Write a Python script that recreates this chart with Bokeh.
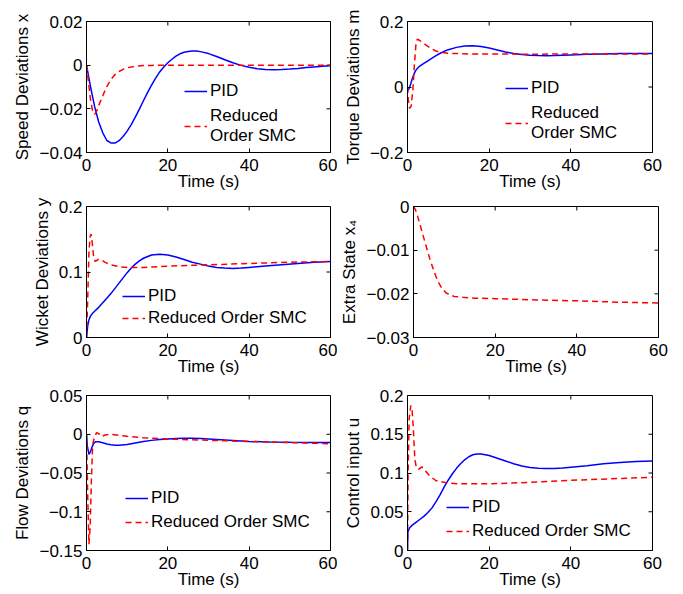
import math
from bokeh.plotting import figure
from bokeh.layouts import column, row
from bokeh.models import Range1d, FixedTicker, Legend, LegendItem
from bokeh.embed import file_html
from bokeh.resources import INLINE

FONT = "Liberation Sans"
FS = "17px"
BLUE = "#0000ff"
RED = "#ff0000"

x_ticks = [0, 20, 40, 60]
x_tick_labels = ["0", "20", "40", "60"]
x_label = "Time (s)"
legend_pid = "PID"
legend_smc = "Reduced Order SMC"
legend_smc_wrapped = "Reduced\nOrder SMC"

# ---- Panel 1: Speed deviations ----
speed_label = "Speed Deviations x"
speed_ticks = [-0.04, -0.02, 0, 0.02]
speed_tick_labels = ["\u22120.04", "\u22120.02", "0", "0.02"]
speed_pid_t = [0, 1, 2, 3, 4, 5, 6, 7, 8, 9, 10, 11, 12, 13, 14, 15, 16, 17, 18, 19, 20,
               21, 22, 23, 24, 25, 26, 27, 28, 30, 32, 34, 36, 38, 40, 42, 44, 46, 48,
               50, 52, 54, 56, 58, 60]
speed_pid = [0, -0.010, -0.019, -0.026, -0.031, -0.0345, -0.0356, -0.0357, -0.0346, -0.0327,
             -0.0302, -0.0272, -0.0238, -0.0201, -0.0163, -0.0126, -0.0091, -0.0059, -0.0031,
             -0.0008, 0.0011, 0.0027, 0.0041, 0.0052, 0.0059, 0.0063, 0.0065, 0.0065, 0.0062,
             0.0053, 0.0040, 0.0025, 0.0011, -0.0001, -0.0010, -0.0016, -0.0020, -0.0021,
             -0.0020, -0.0018, -0.0015, -0.0011, -0.0008, -0.0005, -0.0003]
speed_smc_t = [0, 0.5, 1, 1.5, 2, 2.5, 3, 4, 5, 6, 7, 8, 9, 10, 12, 14, 16, 20, 30, 40, 50, 60]
speed_smc = [0, -0.008, -0.016, -0.021, -0.0225, -0.021, -0.0185, -0.014, -0.0098, -0.0065,
             -0.0043, -0.0029, -0.0019, -0.0012, -0.0005, -0.0002, -0.0001, 0, 0, 0, 0, 0]

# ---- Panel 2: Torque deviations ----
torque_label = "Torque Deviations m"
torque_ticks = [-0.2, 0, 0.2]
torque_tick_labels = ["\u22120.2", "0", "0.2"]
torque_pid_t = [0, 0.4, 0.8, 1.2, 1.6, 2, 2.5, 3, 4, 5, 6, 7, 8, 9, 10, 12, 14, 16, 18, 20,
                22, 24, 26, 28, 30, 32, 34, 36, 38, 40, 44, 48, 52, 56, 60]
torque_pid = [-0.012, -0.005, 0.010, 0.027, 0.040, 0.050, 0.058, 0.064, 0.072, 0.080, 0.088,
              0.096, 0.103, 0.109, 0.114, 0.121, 0.125, 0.126, 0.124, 0.119, 0.113, 0.107,
              0.102, 0.099, 0.097, 0.096, 0.0955, 0.096, 0.097, 0.098, 0.100, 0.101, 0.102,
              0.102, 0.102]
torque_smc_t = [0, 0.2, 0.5, 0.9, 1.3, 1.7, 2.1, 2.4, 3, 4, 5, 6, 7, 8, 10, 15, 20, 30, 40, 50, 60]
torque_smc = [0, -0.04, -0.065, -0.058, -0.01, 0.07, 0.135, 0.146, 0.142, 0.133, 0.124, 0.116,
              0.110, 0.106, 0.103, 0.101, 0.101, 0.100, 0.101, 0.101, 0.101]

# ---- Panel 3: Wicket deviations ----
wicket_label = "Wicket Deviations y"
wicket_ticks = [0, 0.1, 0.2]
wicket_tick_labels = ["0", "0.1", "0.2"]
wicket_pid_t = [0, 0.3, 0.6, 1, 1.5, 2, 3, 4, 5, 6, 7, 8, 9, 10, 11, 12, 13, 14, 16, 18, 20,
                22, 24, 26, 28, 30, 32, 34, 36, 38, 40, 44, 48, 52, 56, 60]
wicket_pid = [0, 0.018, 0.027, 0.033, 0.037, 0.040, 0.046, 0.053, 0.060, 0.067, 0.075, 0.083,
              0.091, 0.099, 0.106, 0.112, 0.117, 0.121, 0.126, 0.127, 0.126, 0.123, 0.119,
              0.115, 0.112, 0.109, 0.107, 0.106, 0.1055, 0.106, 0.107, 0.109, 0.111, 0.113,
              0.115, 0.116]
wicket_smc_t = [0, 0.3, 0.6, 0.9, 1.15, 1.4, 1.8, 2.2, 2.8, 3.5, 4.5, 6, 8, 10, 14, 20, 30, 40, 50, 60]
wicket_smc = [0, 0.06, 0.13, 0.155, 0.158, 0.145, 0.12, 0.116, 0.119, 0.119, 0.115, 0.111,
              0.108, 0.107, 0.107, 0.109, 0.111, 0.113, 0.115, 0.116]

# ---- Panel 4: Extra state ----
extra_label = "Extra State x\u2084"
extra_ticks = [-0.03, -0.02, -0.01, 0]
extra_tick_labels = ["\u22120.03", "\u22120.02", "\u22120.01", "0"]
extra_smc_t = [0, 0.5, 1, 2, 3, 4, 5, 6, 7, 8, 9, 10, 12, 15, 20, 30, 40, 50, 60]
extra_smc = [0, -0.0008, -0.0022, -0.0055, -0.0088, -0.0120, -0.0148, -0.0172, -0.0188,
             -0.0198, -0.0203, -0.0206, -0.0208, -0.0210, -0.0211, -0.0214, -0.0216,
             -0.0219, -0.0221]

# ---- Panel 5: Flow deviations ----
flow_label = "Flow Deviations q"
flow_ticks = [-0.15, -0.1, -0.05, 0, 0.05]
flow_tick_labels = ["\u22120.15", "\u22120.1", "\u22120.05", "0", "0.05"]
flow_pid_t = [0, 0.2, 0.6, 1.0, 1.4, 1.8, 2.2, 3, 4, 5, 6, 7, 8, 10, 12, 14, 16, 18, 20, 22,
              24, 26, 28, 30, 32, 36, 40, 45, 50, 55, 60]
flow_pid = [0, -0.015, -0.026, -0.022, -0.016, -0.0115, -0.0098, -0.0098, -0.011, -0.0125,
            -0.0136, -0.0142, -0.0143, -0.0132, -0.0112, -0.0095, -0.0079, -0.0069, -0.0062,
            -0.0056, -0.0052, -0.0051, -0.0054, -0.0060, -0.0067, -0.0080, -0.0093, -0.0100,
            -0.0104, -0.0106, -0.0107]
flow_smc_t = [0, 0.3, 0.6, 0.9, 1.2, 1.5, 1.9, 2.5, 3.2, 3.8, 4.5, 6, 8, 10, 14, 20, 30, 40, 50, 60]
flow_smc = [0, -0.08, -0.142, -0.12, -0.06, -0.015, -0.004, 0.002, 0.000, -0.003, -0.001, 0.0,
            -0.0015, -0.0027, -0.0045, -0.0062, -0.0078, -0.0093, -0.0108, -0.0122]

# ---- Panel 6: Control input ----
control_label = "Control input u"
control_ticks = [0, 0.05, 0.1, 0.15, 0.2]
control_tick_labels = ["0", "0.05", "0.1", "0.15", "0.2"]
control_pid_t = [0, 0.1, 0.5, 1, 2, 3, 4, 5, 6, 7, 8, 9, 10, 11, 12, 13, 14, 15, 16, 17, 18,
                 20, 22, 24, 26, 28, 30, 32, 34, 36, 38, 40, 44, 48, 52, 56, 60]
control_pid = [0, 0.024, 0.029, 0.032, 0.036, 0.040, 0.044, 0.049, 0.055, 0.063, 0.072, 0.082,
               0.091, 0.099, 0.106, 0.112, 0.117, 0.121, 0.1235, 0.1245, 0.1245, 0.1225,
               0.119, 0.1155, 0.112, 0.109, 0.107, 0.106, 0.1057, 0.1058, 0.1065, 0.1075,
               0.1095, 0.112, 0.1135, 0.1148, 0.1155]
control_smc_t = [0, 0.15, 0.4, 0.8, 1.1, 1.4, 1.8, 2.2, 2.8, 3.5, 4.5, 5.5, 7, 9, 12, 20, 30, 40, 50, 60]
control_smc = [0, 0.10, 0.17, 0.187, 0.183, 0.16, 0.118, 0.106, 0.105, 0.108, 0.102, 0.096,
               0.090, 0.088, 0.086, 0.086, 0.088, 0.0905, 0.0925, 0.0945]


def style_axis(ax, ticks, labels):
    ax.ticker = FixedTicker(ticks=ticks)
    ax.major_label_overrides = {t: l for t, l in zip(ticks, labels)}
    ax.major_tick_in = 4
    ax.major_tick_out = 0
    ax.minor_tick_line_color = None
    ax.axis_line_color = "black"
    ax.major_tick_line_color = "black"
    ax.major_label_text_font = FONT
    ax.major_label_text_color = "black"
    ax.major_label_text_font_size = FS
    ax.axis_label_text_font = FONT
    ax.axis_label_text_font_size = FS
    ax.axis_label_text_font_style = "normal"
    ax.axis_label_text_color = "black"


def panel(ylabel, yr, yticks, ylabels, fw, fh, borders, legend_spec=None,
          pid=None, smc=None):
    bl, br, bt, bb = borders
    p = figure(frame_width=fw, frame_height=fh, x_range=Range1d(0, 60),
               y_range=Range1d(yr[0], yr[1]), output_backend="svg", toolbar_location=None,
               min_border_left=bl, min_border_right=br, min_border_top=bt,
               min_border_bottom=bb)
    p.xgrid.visible = False
    p.ygrid.visible = False
    p.outline_line_color = "black"
    p.outline_line_width = 1
    p.background_fill_color = "white"
    p.border_fill_color = "white"

    style_axis(p.xaxis[0], x_ticks, x_tick_labels)
    p.xaxis[0].major_label_standoff = 6
    p.xaxis[0].axis_label_standoff = -2
    p.xaxis[0].axis_label = x_label
    style_axis(p.yaxis[0], yticks, ylabels)
    p.yaxis[0].axis_label = ylabel
    p.yaxis[0].major_label_standoff = 4
    p.yaxis[0].axis_label_standoff = 4

    # inward tick marks on the top and right edges of the box (MATLAB style)
    p.ray(x=x_ticks, y=[yr[1]] * len(x_ticks), length=4, length_units="screen",
          angle=-math.pi / 2, line_color="black", line_width=1)
    p.ray(x=[60] * len(yticks), y=yticks, length=4, length_units="screen",
          angle=math.pi, line_color="black", line_width=1)

    items = []
    if pid is not None:
        r1 = p.line(pid[0], pid[1], line_color=BLUE, line_width=1.5)
        items.append(LegendItem(label=legend_spec[3][0], renderers=[r1]))
    if smc is not None:
        r2 = p.line(smc[0], smc[1], line_color=RED, line_width=1.5, line_dash="6 4")
        if legend_spec is not None:
            items.append(LegendItem(label=legend_spec[3][1], renderers=[r2]))

    if legend_spec is not None:
        lx, ly, sp, _ = legend_spec
        lg = Legend(items=items, location=(lx, ly), border_line_color=None,
                    background_fill_alpha=0, padding=0, margin=0, spacing=sp,
                    glyph_width=23, glyph_height=20, label_height=20, label_standoff=3,
                    label_text_font=FONT, label_text_font_size=FS, label_text_color="black")
        p.add_layout(lg)
    return p


two_line = [legend_pid, legend_smc_wrapped]
one_line = [legend_pid, legend_smc]

p1 = panel(speed_label, (-0.04, 0.02), speed_ticks, speed_tick_labels, 244, 131,
           (86, 7, 21, 44), (98, 6, 5, two_line),
           pid=(speed_pid_t, speed_pid), smc=(speed_smc_t, speed_smc))
p2 = panel(torque_label, (-0.2, 0.2), torque_ticks, torque_tick_labels, 245, 131,
           (70, 10, 21, 44), (98, 9, 5, two_line),
           pid=(torque_pid_t, torque_pid), smc=(torque_smc_t, torque_smc))
p3 = panel(wicket_label, (0, 0.2), wicket_ticks, wicket_tick_labels, 244, 131,
           (86, 7, 10, 44), (36, 9, 2, one_line),
           pid=(wicket_pid_t, wicket_pid), smc=(wicket_smc_t, wicket_smc))
p4 = panel(extra_label, (-0.03, 0), extra_ticks, extra_tick_labels, 245, 131,
           (70, 10, 10, 44), None,
           pid=None, smc=(extra_smc_t, extra_smc))
p5 = panel(flow_label, (-0.15, 0.05), flow_ticks, flow_tick_labels, 244, 155,
           (86, 7, 14, 44), (39, 18, 4, one_line),
           pid=(flow_pid_t, flow_pid), smc=(flow_smc_t, flow_smc))
p6 = panel(control_label, (0, 0.2), control_ticks, control_tick_labels, 245, 155,
           (70, 10, 14, 44), (39, 9, 4, one_line),
           pid=(control_pid_t, control_pid), smc=(control_smc_t, control_smc))

layout = column(row(p1, p2), row(p3, p4), row(p5, p6))
open("out.html", "w").write(file_html(layout, INLINE))
